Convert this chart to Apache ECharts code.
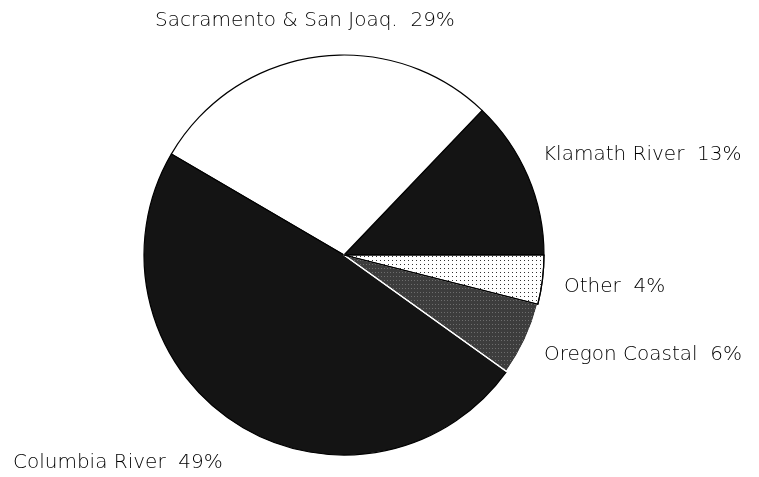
<!DOCTYPE html>
<html>
<head>
<meta charset="utf-8">
<script src="https://cdn.jsdelivr.net/npm/echarts@6/dist/echarts.min.js"></script>
<style>
  html, body { margin: 0; padding: 0; background: #fff; }
  #chart { width: 759px; height: 477px; }
</style>
</head>
<body>
<div id="chart"></div>
<script>
// slices counterclockwise from 3 o'clock
const names = ['Klamath River', 'Sacramento & San Joaq.', 'Columbia River', 'Oregon Coastal', 'Other'];
const shares = [13, 29, 49, 6, 4];

// where each label sits (left edge, vertical middle)
const labelPos = [
  [543, 155],
  [155, 21],
  [13, 463],
  [544, 355],
  [564, 287]
];

const fills = [
  { color: '#141414' },
  { color: '#ffffff' },
  { color: '#141414' },
  { color: '#3d3d3d', borderColor: '#fff', decal: { symbol: 'rect', symbolSize: 1, color: 'rgba(255,255,255,0.25)', dashArrayX: [1, 2], dashArrayY: [1, 3] } },
  { color: '#ffffff', decal: { symbol: 'rect', symbolSize: 1, color: '#333', dashArrayX: [1, 2.5], dashArrayY: [1, 2.5] } }
];

const myChart = echarts.init(document.getElementById('chart'));

myChart.setOption({
  backgroundColor: '#fff',
  animation: false,
  series: [{
    type: 'pie',
    center: [344, 255],
    radius: 200,
    startAngle: 0,
    clockwise: false,
    avoidLabelOverlap: false,
    data: names.map((n, i) => ({
      name: n,
      value: shares[i],
      itemStyle: Object.assign({ borderColor: '#000', borderWidth: 1.2 }, fills[i])
    })),
    label: {
      show: true,
      formatter: p => p.name + '  ' + p.value + '%',
      fontFamily: 'DejaVu Sans',
      fontWeight: 200,
      fontSize: 20,
      color: '#000'
    },
    labelLine: { show: false },
    labelLayout: p => ({
      x: labelPos[p.dataIndex][0],
      y: labelPos[p.dataIndex][1],
      align: 'left',
      verticalAlign: 'middle'
    }),
    emphasis: { disabled: true }
  }]
});
</script>
</body>
</html>
